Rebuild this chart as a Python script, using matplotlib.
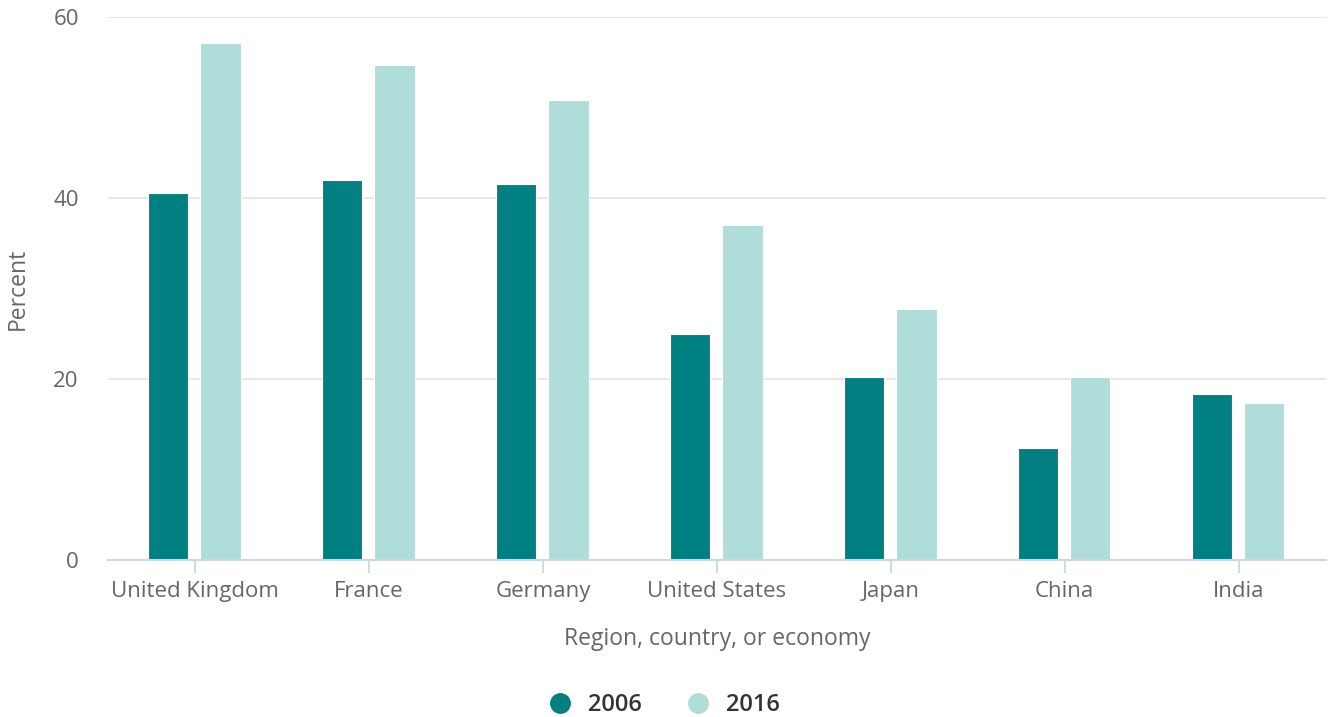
import numpy as np
import matplotlib.pyplot as plt
from matplotlib.lines import Line2D

plt.rcParams['font.family'] = ['Open Sans', 'DejaVu Sans']

# datos
paises = ["United Kingdom", "France", "Germany", "United States", "Japan", "China", "India"]
v2006 = [40.6, 42.0, 41.6, 25.0, 20.2, 12.4, 18.4]
v2016 = [57.1, 54.7, 50.9, 37.0, 27.7, 20.2, 17.3]
yticks = [0, 20, 40, 60]

oscuro = "#008080"
claro = "#b0ddda"
gris = "#666666"
ejes = "#ccd6eb"

fig = plt.figure(figsize=(13.31, 7.17), dpi=100)
ax = fig.add_axes([0.0811, 0.219, 0.9149, 0.757])

x = np.arange(len(paises))
ancho = 0.232
ax.bar(x - 0.153, v2006, ancho, color=oscuro, edgecolor="white", linewidth=0.8, zorder=3)
ax.bar(x + 0.147, v2016, ancho, color=claro, edgecolor="white", linewidth=0.8, zorder=3)

ax.set_xlim(-0.5, len(paises) - 0.5)
ax.set_ylim(0, 60)
ax.set_yticks(yticks)
ax.set_xticks(x)
ax.set_xticklabels(paises)

ax.grid(axis="y", color="#e6e6e6", linewidth=1.3, zorder=0)
for s in ["top", "right", "left"]:
    ax.spines[s].set_visible(False)
ax.spines["bottom"].set_color(ejes)
ax.spines["bottom"].set_linewidth(1.5)
ax.spines["bottom"].set_zorder(4)

ax.tick_params(axis="y", length=0, pad=21, labelsize=16, labelcolor=gris)
ax.tick_params(axis="x", length=9, width=1.3, color=ejes, pad=6, labelsize=16, labelcolor=gris)

ax.set_ylabel("Percent", fontsize=16.5, color=gris, va="center")
ax.yaxis.set_label_coords(-0.074, 0.5)
ax.set_xlabel("Region, country, or economy", fontsize=16.5, color=gris, labelpad=18)

handles = [Line2D([], [], marker="o", linestyle="", markersize=14, color=oscuro),
           Line2D([], [], marker="o", linestyle="", markersize=14, color=claro)]
fig.legend(handles, ["2006", "2016"], loc="lower center", bbox_to_anchor=(0.4945, -0.03),
           ncol=2, frameon=False, handletextpad=0.2, columnspacing=1.35,
           prop={"size": 17, "weight": "semibold"}, labelcolor="#333333")

fig.savefig("out.png", dpi=100)
